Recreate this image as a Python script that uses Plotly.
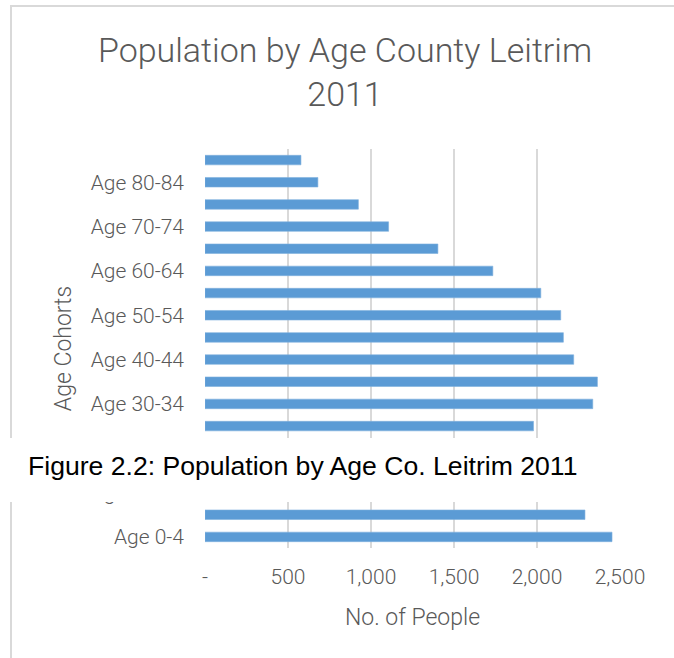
import plotly.graph_objects as go

# Age cohorts, bottom to top
age_groups = [
    "Age 0-4", "Age 5-9", "Age 10-14", "Age 15-19", "Age 20-24", "Age 25-29",
    "Age 30-34", "Age 35-39", "Age 40-44", "Age 45-49", "Age 50-54", "Age 55-59",
    "Age 60-64", "Age 65-69", "Age 70-74", "Age 75-79", "Age 80-84", "Age 85+",
]
population = [
    2452, 2289, 2100, 1900, 1400, 1979,
    2336, 2364, 2221, 2159, 2143, 2023,
    1734, 1403, 1106, 924, 680, 578,
]
# every second cohort is labelled; the one under the caption strip is left out
y_tick_labels = [
    "Age 0-4", "Age 10-14", "Age 30-34", "Age 40-44",
    "Age 50-54", "Age 60-64", "Age 70-74", "Age 80-84",
]
x_tick_values = [0, 500, 1000, 1500, 2000, 2500]
x_tick_labels = ["-", "500", "1,000", "1,500", "2,000", "2,500"]

W, H = 674, 658
L, R, T, B = 205, 54, 149, 110
PW, PH = W - L - R, H - T - B


def px_x(p):
    return (p - L) / PW


def px_y(p):
    return (H - B - p) / PH


GRAY_TXT = "#595959"
GRID = "#d9d9d9"
LIGHT = dict(family="Roboto, Open Sans, sans-serif", color=GRAY_TXT, weight=300)

fig = go.Figure(
    go.Bar(
        x=population,
        y=age_groups,
        orientation="h",
        width=0.43,
        marker=dict(color="#5B9BD5", line=dict(color="#7FB0DE", width=0.6)),
    )
)

fig.update_layout(
    width=W,
    height=H,
    margin=dict(l=L, r=R, t=T, b=B, autoexpand=False),
    paper_bgcolor="white",
    plot_bgcolor="white",
    showlegend=False,
    title=dict(
        text="Population by Age County Leitrim<br>2011",
        x=345 / W,
        xanchor="center",
        xref="container",
        y=1 - 62 / H,
        yanchor="middle",
        yref="container",
        font=dict(size=34, **LIGHT),
    ),
    xaxis=dict(
        range=[0, 2500],
        tickvals=x_tick_values,
        ticktext=x_tick_labels,
        showgrid=True,
        gridcolor=GRID,
        gridwidth=1.5,
        zeroline=False,
        showline=False,
        ticks="",
        ticklabelstandoff=14,
        tickfont=dict(size=21, **LIGHT),
        title=dict(text="No. of People", font=dict(size=23, **LIGHT), standoff=20),
    ),
    yaxis=dict(
        type="category",
        categoryorder="array",
        categoryarray=age_groups,
        tickvals=y_tick_labels,
        showgrid=False,
        zeroline=False,
        showline=False,
        ticks="",
        ticklabelstandoff=20,
        tickfont=dict(size=21, **LIGHT),
        title=dict(text="Age Cohorts", font=dict(size=23, **LIGHT), standoff=12),
    ),
    shapes=[
        # chart frame (left and top edges)
        dict(type="line", xref="paper", yref="paper",
             x0=px_x(11), x1=px_x(11), y0=px_y(H + 2), y1=px_y(6),
             line=dict(color=GRID, width=2), layer="above"),
        dict(type="line", xref="paper", yref="paper",
             x0=px_x(10), x1=px_x(W + 2), y0=px_y(6), y1=px_y(6),
             line=dict(color=GRID, width=2), layer="above"),
        # white strip carrying the figure caption
        dict(type="rect", xref="paper", yref="paper",
             x0=px_x(-2), x1=px_x(W + 2), y0=px_y(502), y1=px_y(438),
             fillcolor="white", line=dict(width=0), layer="above"),
    ],
    annotations=[
        dict(text="Figure 2.2: Population by Age Co. Leitrim 2011",
             xref="paper", yref="paper", x=px_x(26), y=px_y(466),
             xanchor="left", yanchor="middle", showarrow=False,
             font=dict(family="Arial, Liberation Sans, sans-serif", size=26.6, color="black")),
    ],
)

fig.write_html("out.html")
